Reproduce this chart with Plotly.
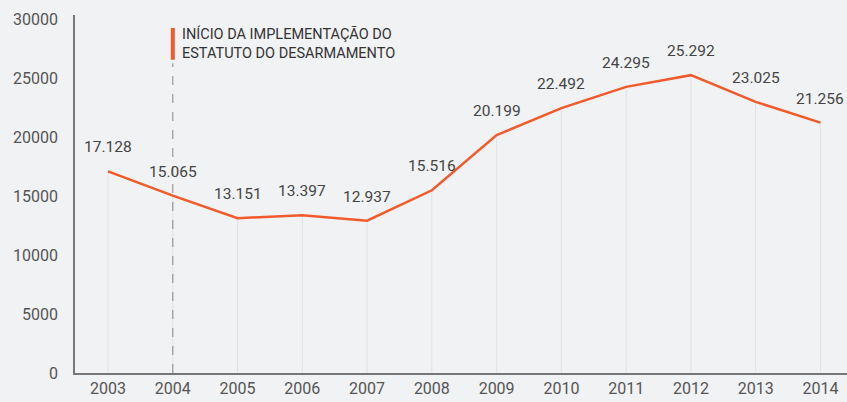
import plotly.graph_objects as go

years = [2003, 2004, 2005, 2006, 2007, 2008, 2009, 2010, 2011, 2012, 2013, 2014]
deaths = [17128, 15065, 13151, 13397, 12937, 15516, 20199, 22492, 24295, 25292, 23025, 21256]
labels = ["17.128", "15.065", "13.151", "13.397", "12.937", "15.516",
          "20.199", "22.492", "24.295", "25.292", "23.025", "21.256"]
y_ticks = [0, 5000, 10000, 15000, 20000, 25000, 30000]
event_year = 2004
event_text = "INÍCIO DA IMPLEMENTAÇÃO DO<br>ESTATUTO DO DESARMAMENTO"

orange = "#f15a2b"
bg = "#f1f2f4"

fig = go.Figure()

# drop lines from each point down to the axis
fig.add_trace(go.Scatter(
    x=years, y=deaths, mode="markers",
    marker=dict(size=1, color="rgba(0,0,0,0)"),
    error_y=dict(type="data", symmetric=False, array=[0] * len(deaths),
                 arrayminus=deaths, width=0, color="#e1e2e5", thickness=1),
    hoverinfo="skip", showlegend=False,
))

fig.add_trace(go.Scatter(
    x=years, y=deaths, mode="lines",
    line=dict(color=orange, width=2.5),
    showlegend=False,
))

for x, y, t in zip(years, deaths, labels):
    fig.add_annotation(x=x, y=y, text=t, showarrow=False, yshift=24,
                       font=dict(size=15.5, color="#444"))

# event marker
fig.add_shape(type="line", x0=event_year, x1=event_year, y0=0, y1=26300,
              line=dict(color="#888", width=1, dash="dash"))
fig.add_shape(type="line", x0=event_year, x1=event_year, y0=26600, y1=29300,
              line=dict(color=orange, width=4))
fig.add_annotation(x=event_year, y=27950, text=event_text, showarrow=False,
                   xanchor="left", align="left", xshift=7,
                   font=dict(size=14.5, color="#333"))

fig.update_layout(
    width=847, height=402,
    margin=dict(l=75, r=0, t=15, b=29),
    paper_bgcolor=bg, plot_bgcolor=bg,
    font=dict(family="Roboto, sans-serif", color="#555"),
    xaxis=dict(range=[2002.49, 2014.41], tickvals=years, showgrid=False,
               zeroline=False, showline=True, linecolor="#777", linewidth=1.5,
               tickfont=dict(size=16, color="#555"), ticks="", automargin=False),
    yaxis=dict(range=[0, 30400], tickvals=y_ticks,
               ticktext=[str(v) for v in y_ticks], showgrid=False,
               zeroline=False, showline=True, linecolor="#777", linewidth=1.5,
               tickfont=dict(size=16, color="#555"), ticks="",
               ticklabelstandoff=12, automargin=False),
)

config = {'displayModeBar': False}
fig.write_html("out.html", config=config,
               post_script="document.body.style.margin='0';"
                           "document.body.style.background='" + bg + "';")
